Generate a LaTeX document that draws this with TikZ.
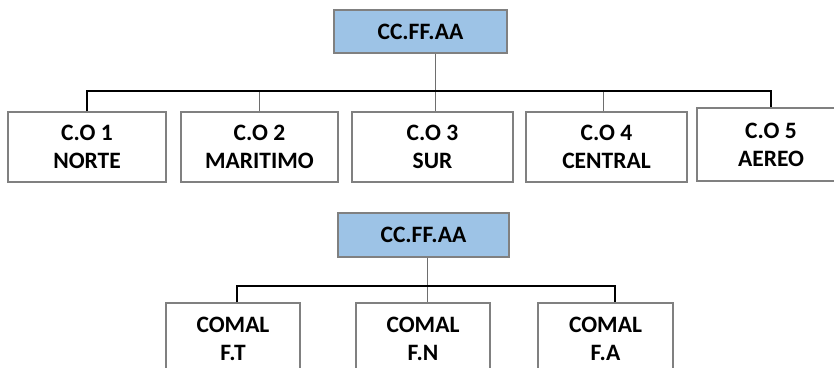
\documentclass[tikz,border=0pt]{standalone}
\usepackage{fontspec}
\setmainfont{Carlito}
\usepackage{xcolor}
\usepackage{tikz}
\usetikzlibrary{calc}

\definecolor{boxgray}{RGB}{128,128,128}
\definecolor{linkgray}{RGB}{110,110,110}
\definecolor{headblue}{RGB}{157,195,230}

\begin{document}
\begin{tikzpicture}[x=1pt,y=1pt,
  box/.style={draw=boxgray,line width=1.2pt,fill=white,align=center,inner sep=0pt,
    font=\fontsize{23.5}{28}\selectfont\bfseries,text=black},
  head/.style={box,fill=headblue},
  link/.style={linkgray,line width=1pt},
  bus/.style={black,line width=2.6pt}]
\clip (0,0) rectangle (834,-367);

% top chart
\node[head,minimum width=173pt,minimum height=43pt] (root1) at (420.5,-31.5) {CC.FF.AA};
\node[box,minimum width=158pt,minimum height=70pt] (co1) at (87,-147) {C.O 1\\NORTE};
\node[box,minimum width=157pt,minimum height=70pt] (co2) at (259.5,-147) {C.O 2\\MARITIMO};
\node[box,minimum width=161pt,minimum height=70pt] (co3) at (432.5,-147) {C.O 3\\SUR};
\node[box,minimum width=161pt,minimum height=70pt] (co4) at (606.5,-147) {C.O 4\\CENTRAL};
\node[box,minimum width=148pt,minimum height=73pt] (co5) at (771,-144.5) {C.O 5\\AEREO};

\coordinate (bus1) at (435,-91);
\draw[link] (root1.south -| bus1) -- (co3.north -| bus1);
\draw[link] (co2.north) -- (co2.north |- bus1);
\draw[link] ([xshift=-3pt]co4.north) -- ([xshift=-3pt]co4.north |- bus1);
\draw[bus] (co1.north) -- (co1.north |- bus1) -| (co5.north);

% bottom chart
\node[head,minimum width=171pt,minimum height=44pt] (root2) at (423.5,-235) {CC.FF.AA};
\node[box,minimum width=134pt,minimum height=72pt] (ft) at (233,-339) {COMAL\\F.T};
\node[box,minimum width=134pt,minimum height=72pt] (fn) at (423,-339) {COMAL\\F.N};
\node[box,minimum width=135pt,minimum height=72pt] (fa) at (605.5,-339) {COMAL\\F.A};

\coordinate (bus2) at (427,-286);
\draw[link] (root2.south -| bus2) -- (fn.north -| bus2);
\draw[bus] ([xshift=4pt]ft.north) -- ([xshift=4pt]ft.north |- bus2) -| ([xshift=9.5pt]fa.north);
\end{tikzpicture}
\end{document}
